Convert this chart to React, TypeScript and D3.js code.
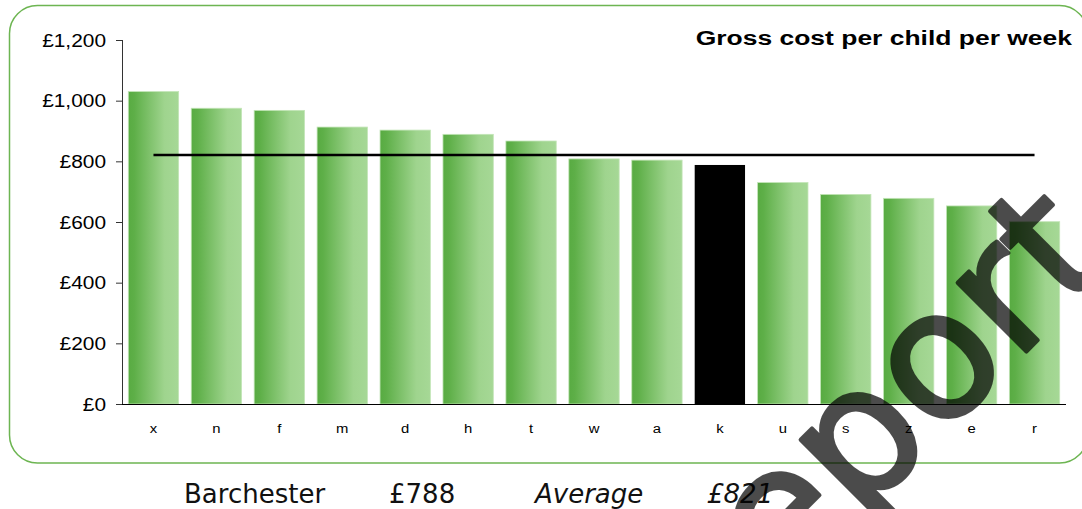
import * as d3 from "d3";

// cost per child per week, by authority (letters as on the chart)
const areas = ["x", "n", "f", "m", "d", "h", "t", "w", "a", "k", "u", "s", "z", "e", "r"];
const costs = [1030, 975, 968, 913, 903, 889, 867, 808, 804, 788, 730, 691, 678, 653, 601];
const highlight = "k";
const average = 821;
const yTicks = [0, 200, 400, 600, 800, 1000, 1200];
const title = "Gross cost per child per week";
const summaryLabels = ["Barchester", "£788", "Average", "£821"];
const watermark = "Report";

const W = 1082;
const H = 509;
const margin = { top: 40, right: 16, bottom: 105, left: 122 };

function Stretch(props: any) {
  const { x, y, sx, children, ...rest } = props;
  return (
    <text transform={`translate(${x},${y}) scale(${sx},1)`} {...rest}>
      {children}
    </text>
  );
}

export default function App() {
  const x = d3
    .scaleBand()
    .domain(areas)
    .range([margin.left, W - margin.right])
    .paddingInner(0.2)
    .paddingOuter(0.1);

  const y = d3
    .scaleLinear()
    .domain([0, 1200])
    .range([H - margin.bottom, margin.top]);

  const fmt = d3.format(",");
  const bw = x.bandwidth();
  const base = y(0);
  const lineX1 = (x(areas[0]) as number) + bw / 2;
  const lineX2 = (x(areas[areas.length - 1]) as number) + bw / 2;

  return (
    <svg
      width={W}
      height={H}
      style={{ position: "absolute", left: 0, top: 0, background: "#fff" }}
    >
      <defs>
        <linearGradient id="barFill" x1="0" x2="1" y1="0" y2="0">
          <stop offset="0" stopColor="#58ab42" />
          <stop offset="0.12" stopColor="#5eaf48" />
          <stop offset="0.72" stopColor="#9fd48e" />
          <stop offset="1" stopColor="#a6d896" />
        </linearGradient>
      </defs>

      {/* frame */}
      <rect
        x={9.5}
        y={5.5}
        width={1078}
        height={457.5}
        rx={28}
        fill="none"
        stroke="#6db552"
        strokeWidth={1.5}
      />

      {/* title */}
      <Stretch
        x={1072}
        y={45}
        sx={1.26}
        textAnchor="end"
        fontFamily="'Liberation Sans', Arial, sans-serif"
        fontWeight="bold"
        fontSize={21}
        fill="#000"
      >
        {title}
      </Stretch>

      {/* bars */}
      {areas.map((a, i) => (
        <rect
          key={a}
          x={x(a)}
          y={y(costs[i])}
          width={bw}
          height={base - y(costs[i])}
          fill={a === highlight ? "#000" : "url(#barFill)"}
          stroke={a === highlight ? "none" : "#c3e5b7"}
          strokeWidth={0.8}
        />
      ))}

      {/* y axis */}
      <line x1={margin.left + 0.5} x2={margin.left + 0.5} y1={y(1200)} y2={base} stroke="#333" />
      {yTicks.map((t) => (
        <g key={t}>
          <line x1={margin.left - 6} x2={margin.left} y1={y(t) + 0.5} y2={y(t) + 0.5} stroke="#333" />
          <Stretch
            x={106}
            y={y(t) + 6.5}
            sx={1.13}
            textAnchor="end"
            fontFamily="'Liberation Sans', Arial, sans-serif"
            fontSize={18.5}
            fill="#000"
          >
            {"£" + fmt(t)}
          </Stretch>
        </g>
      ))}

      {/* x axis */}
      <line x1={margin.left} x2={W - margin.right} y1={base + 0.5} y2={base + 0.5} stroke="#000" />
      {areas.map((a) => (
        <Stretch
          key={a}
          x={(x(a) as number) + bw / 2}
          y={433}
          sx={1.1}
          textAnchor="middle"
          fontFamily="'Liberation Sans', Arial, sans-serif"
          fontSize={13.5}
          fill="#000"
        >
          {a}
        </Stretch>
      ))}

      {/* average line */}
      <line x1={lineX1} x2={lineX2} y1={y(average)} y2={y(average)} stroke="#000" strokeWidth={2.5} />

      {/* summary under the chart */}
      <g fontFamily="'DejaVu Sans', Verdana, sans-serif" fontSize={26} fill="#111">
        <text x={184} y={503}>{summaryLabels[0]}</text>
        <text x={389} y={503}>{summaryLabels[1]}</text>
        <text x={535} y={503} fontStyle="italic">{summaryLabels[2]}</text>
        <text x={707} y={503} fontStyle="italic">{summaryLabels[3]}</text>
      </g>

      {/* watermark */}
      <g opacity={0.7}>
        <text
          transform="translate(1116,262) rotate(-45)"
          textAnchor="end"
          fontFamily="'DejaVu Sans', Verdana, sans-serif"
          fontSize={178}
          fill="#000"
          stroke="#000"
          strokeWidth={4}
          strokeLinejoin="round"
        >
          {watermark}
        </text>
      </g>
    </svg>
  );
}
